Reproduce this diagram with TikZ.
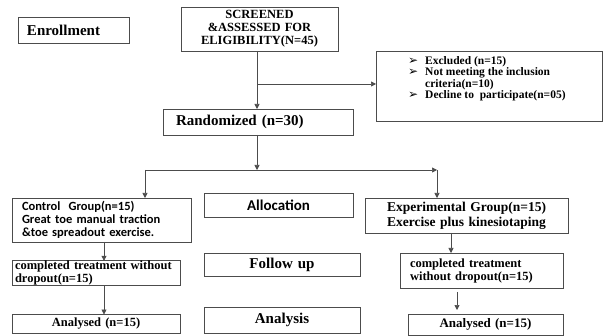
\documentclass[tikz,border=0pt]{standalone}
\usepackage{fontspec}
\setmainfont{Liberation Serif}
\newfontfamily\calfont{Carlito}
\newfontfamily\dvfont{DejaVu Sans}
\usetikzlibrary{calc,arrows.meta}

\newcommand{\bul}{\makebox[17pt][l]{\smash{\dvfont\fontsize{12}{12}\selectfont ➢}}}

\tikzset{
    box/.style={draw=black!70, line width=0.7pt, inner ysep=0pt, outer sep=0pt},
    big/.style={font=\fontsize{15}{17}\selectfont\bfseries},
    mid/.style={font=\fontsize{12.5}{13}\selectfont\bfseries},
    arr/.style={-{Triangle[length=5pt,width=5pt]}, line width=0.7pt, draw=black!70},
    lin/.style={line width=0.7pt, draw=black!70},
}

\begin{document}
\begin{tikzpicture}[x=1pt,y=-1pt]
    \useasboundingbox (0,0) rectangle (607,336);
    % stage labels
    \node[box, big, inner xsep=9pt, text width=93pt, minimum height=26pt, align=left] (enroll) at (73.5,30) {Enrollment};
    \node[box, big, font=\calfont\fontsize{15}{17}\selectfont\bfseries, inner xsep=3pt, text width=143pt, minimum height=24pt, align=center] (alloc) at (278.5,205) {Allocation};
    \node[box, big, inner xsep=3pt, text width=150pt, minimum height=23pt, align=center] (follow) at (282,264.5) {Follow up};
    \node[box, big, inner xsep=3pt, text width=150pt, minimum height=26pt, align=center] (analysis) at (282,320) {Analysis};
    % flow boxes
    \node[box, font=\fontsize{12.5}{13}\selectfont\bfseries, inner xsep=3pt, text width=151pt, minimum height=44pt, align=center] (screen) at (259.5,29)
        {SCREENED\\\&ASSESSED FOR\\ELIGIBILITY(N=45)};
    \node[box, minimum width=226pt, minimum height=70pt] (excl) at (489,86) {};
    \node[anchor=north west, inner sep=0pt, font=\fontsize{11.5}{9.8}\selectfont\bfseries, align=left] (excltxt) at ($(excl.north west)+(32,5)$)
        {\bul Excluded (n=15)\\\bul Not meeting the inclusion\\\hspace*{17pt}criteria(n=10)\\\bul Decline to\ \ participate(n=05)};
    \node[box, big, inner xsep=13pt, text width=164pt, minimum height=26pt, align=left] (rand) at (258,122) {Randomized (n=30)};
    \node[box, font=\calfont\fontsize{12.5}{13}\selectfont\bfseries, inner xsep=10pt, text width=159pt, minimum height=44pt, align=left] (ctrl) at (101.5,220)
        {Control\ \ Group(n=15)\\Great toe manual traction\\\&toe spreadout exercise.};
    \node[box, font=\fontsize{13.5}{15}\selectfont\bfseries, inner xsep=3pt, text width=197pt, minimum height=35pt, align=center] (exp) at (466.5,215.5)
        {Experimental Group(n=15)\\Exercise plus kinesiotaping};
    \node[box, mid, inner xsep=3pt, text width=162pt, minimum height=24pt, align=left] (compL) at (96,273)
        {completed treatment without\\dropout(n=15)};
    \node[box, mid, inner xsep=10pt, text width=143pt, minimum height=35pt, align=left] (compR) at (481.5,270.5)
        {completed treatment\\without dropout(n=15)};
    \node[box, mid, inner xsep=3pt, text width=162pt, minimum height=19pt, align=center] (anL) at (96,324) {Analysed (n=15)};
    \node[box, font=\fontsize{13}{15}\selectfont\bfseries, inner xsep=3pt, text width=149pt, minimum height=21pt, align=center] (anR) at (485.5,324.5) {Analysed (n=15)};
    % connectors
    \coordinate (b1) at (257,84);
    \coordinate (b2) at (257,170);
    \coordinate (bl) at (145,170);
    \coordinate (br) at (437,170);
    \coordinate (cl) at (104,0);
    \coordinate (cr) at (451,0);
    \coordinate (cs) at (457,0);
    \draw[arr] (b1 |- screen.south) -- (b1 |- rand.north);
    \draw[arr] (b1) -- (excl.west |- b1);
    \draw[arr] (b1 |- rand.south) -- (b2);
    \draw[lin] (bl) -- (b2);
    \draw[arr] (b2) -- (br);
    \draw[arr] (bl) -- (bl |- ctrl.north);
    \draw[arr] (br) -- (br |- exp.north);
    \draw[arr] (cl |- ctrl.south) -- (cl |- compL.north);
    \draw[arr] (cl |- compL.south) -- (cl |- anL.north);
    \draw[arr] (cr |- exp.south) -- (cr |- compR.north);
    \draw[arr] ($(cs |- compR.south)+(0,4)$) -- ($(cs |- anR.north)+(0,-4)$);
\end{tikzpicture}
\end{document}
